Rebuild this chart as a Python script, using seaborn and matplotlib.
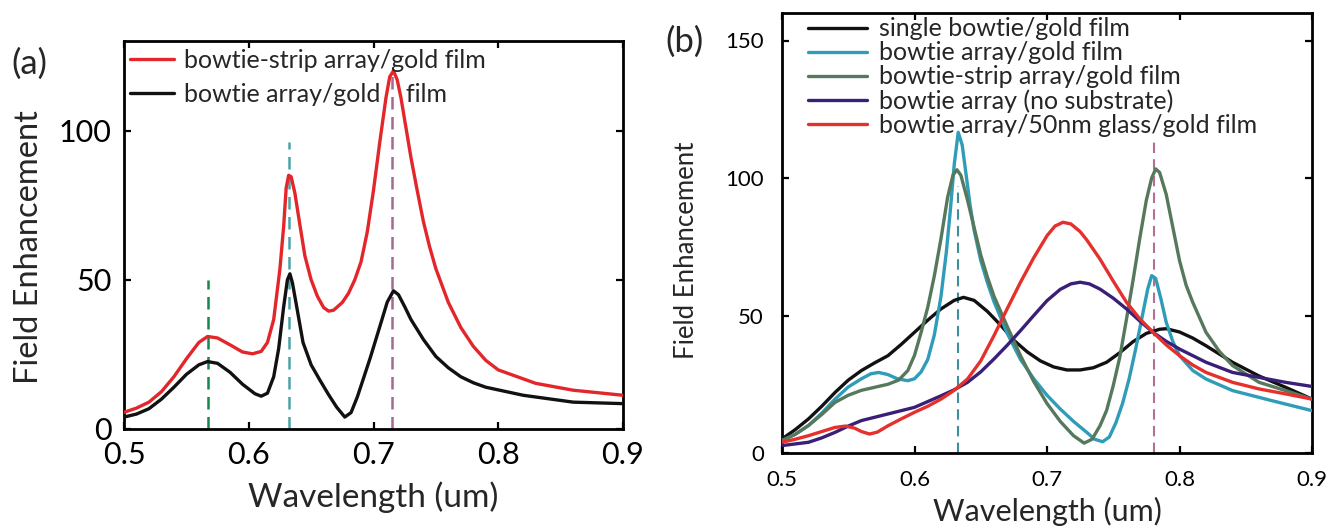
import matplotlib
matplotlib.use("Agg")
import matplotlib.pyplot as plt
import seaborn as sns

# ---------------- data: panel (a) ----------------
wl_a_strip = [0.50,0.51,0.52,0.53,0.54,0.55,0.56,0.567,0.575,0.585,0.595,0.603,0.61,0.615,0.62,0.625,0.628,
              0.63,0.632,0.634,0.637,0.64,0.645,0.65,0.655,0.66,0.664,0.668,0.675,0.68,0.685,0.69,0.695,
              0.70,0.705,0.71,0.713,0.716,0.719,0.722,0.726,0.73,0.735,0.74,0.745,0.75,0.76,0.77,0.78,
              0.79,0.80,0.83,0.86,0.90]
fe_a_strip = [5.6,7,9,12.5,17.5,23.5,29,31,30.5,28.2,25.8,25.2,26,29,36.7,53.7,68,
              80.8,85,84.5,79,71,58,50,44.5,40.7,39.5,39.8,42.4,45.5,50,56,66,
              80,96,111,118,120,117,111,101,91,80,69.5,61,53.7,42.4,34,27.7,
              23,19.8,15.3,13,11.3]

wl_a_array = [0.50,0.51,0.52,0.53,0.54,0.55,0.56,0.567,0.575,0.585,0.595,0.605,0.61,0.615,0.62,0.624,
              0.628,0.631,0.633,0.635,0.638,0.6435,0.65,0.657,0.664,0.6705,0.677,0.682,0.687,0.692,
              0.6975,0.706,0.711,0.716,0.72,0.725,0.73,0.74,0.75,0.76,0.77,0.78,0.79,0.82,0.86,0.90]
fe_a_array = [4,5,6.8,10,14,18.3,21.5,22.6,22,19,15,11.8,11,12,17.5,27,
              41,50,52,49,42,29,21.5,16.4,11.5,7.3,4,5.5,10.7,17,
              24,35.6,42.5,46.3,45,41,36.7,30,24.3,20.5,17.5,15.5,14,11.3,9,8.5]

labels_a = ["bowtie-strip array/gold film", "bowtie array/gold    film"]
colors_a = ["#e3262a", "#111111"]

vl_a_x = [0.567, 0.632, 0.715]
vl_a_top = [50, 96, 120]
vl_a_colors = ["#15874d", "#4aa3a8", "#a4698f"]

# ---------------- data: panel (b) ----------------
wl_b_single = [0.50,0.51,0.52,0.53,0.54,0.55,0.56,0.57,0.58,0.59,0.60,0.61,0.62,0.63,0.637,0.645,0.655,
               0.665,0.675,0.685,0.695,0.705,0.715,0.725,0.735,0.745,0.755,0.765,0.775,0.785,0.79,
               0.80,0.81,0.82,0.84,0.86,0.88,0.90]
fe_b_single = [5.1,8.5,12.4,17,22,26.5,30,32.8,35.4,39.5,43.9,48.3,52.4,55.5,56.6,55.5,51.5,
               46.5,41,36.8,33.5,31.3,30.2,30.2,31,33,36.5,40.5,43.5,45,45.2,
               44,41.8,39,33,28,23.9,19.6]

wl_b_array = [0.50,0.51,0.52,0.53,0.54,0.55,0.56,0.567,0.573,0.58,0.587,0.595,0.60,0.605,0.61,0.615,
              0.62,0.624,0.627,0.63,0.633,0.636,0.639,0.642,0.645,0.65,0.655,0.66,0.67,0.68,0.69,
              0.70,0.71,0.72,0.73,0.736,0.742,0.747,0.752,0.757,0.762,0.767,0.772,0.776,0.779,0.782,
              0.786,0.79,0.795,0.80,0.81,0.82,0.84,0.87,0.90]
fe_b_array = [4.5,6.8,10,14.5,19.6,24,27,28.8,29.3,28.5,27,26.3,27,29.5,34,43,
              57,73,88,105,116.6,112,101,90,81,70,62,55,43.5,34,27,
              21,16,11.5,7.5,5,4.1,5.8,11,18,27,38,50,59.6,64.5,63.5,
              56,47.5,40.5,35.4,30,26.9,22.7,19,15.4]

wl_b_strip = [0.50,0.51,0.52,0.53,0.54,0.55,0.56,0.57,0.58,0.588,0.595,0.60,0.605,0.61,0.615,0.62,
              0.625,0.629,0.632,0.635,0.64,0.645,0.65,0.655,0.66,0.67,0.68,0.69,0.70,0.71,0.72,
              0.728,0.734,0.74,0.745,0.75,0.755,0.76,0.765,0.77,0.775,0.779,0.782,0.785,0.79,0.795,
              0.80,0.805,0.81,0.82,0.83,0.84,0.86,0.88,0.90]
fe_b_strip = [4.5,6.8,10,14,18.4,21,22.8,23.9,25,26.5,30,35.5,43.9,53,64.5,78,
              93,101,103,101,92,82,72,64,57,46,35.4,26,18,11.5,6.3,
              3.6,5,9.9,15.5,24.5,35,48.7,63,78,92,100,103.3,102,94,82,
              70,61,54.8,43.9,37,31.8,25.7,22.7,19.6]

wl_b_nosub = [0.50,0.52,0.53,0.54,0.55,0.56,0.58,0.60,0.62,0.63,0.64,0.65,0.66,0.67,0.68,0.69,0.70,
              0.71,0.718,0.725,0.732,0.74,0.75,0.76,0.77,0.78,0.79,0.80,0.82,0.84,0.86,0.88,0.90]
fe_b_nosub = [2.7,3.9,5.5,7.5,9.8,11.8,14.2,16.6,20.8,23,25.7,29.5,34.2,39.2,44.5,50,55.4,
              59.5,61.5,62.1,61.5,59.6,56.3,52.4,48,43.9,40.6,37.8,33,29.3,27.5,25.7,24.2]

wl_b_glass = [0.50,0.51,0.52,0.53,0.54,0.548,0.555,0.56,0.566,0.572,0.58,0.59,0.60,0.61,0.62,0.63,
              0.64,0.65,0.66,0.67,0.68,0.69,0.70,0.706,0.712,0.718,0.725,0.73,0.74,0.75,0.76,0.77,
              0.78,0.79,0.80,0.81,0.82,0.84,0.86,0.88,0.90]
fe_b_glass = [3.9,5,6.3,7.8,9.3,9.8,9,7.8,6.9,7.6,9.9,12.4,14.8,17,19.6,22.8,
              26.9,33.5,42.7,52.5,62.1,71,79,82.5,83.9,83.3,80.5,77.5,70.5,62.5,54.8,48.8,
              43.9,39.3,35.4,32,29.3,25.7,23.3,21.5,19.6]

labels_b = ["single bowtie/gold film", "bowtie array/gold film", "bowtie-strip array/gold film",
            "bowtie array (no substrate)", "bowtie array/50nm glass/gold film"]
colors_b = ["#111111", "#2f9cb8", "#56785c", "#3a1f78", "#e5302b"]

vl_b_x = [0.633, 0.781]
vl_b_top = [97, 113]
vl_b_colors = ["#3d8f9c", "#b56f94"]

xticks = [0.5, 0.6, 0.7, 0.8, 0.9]
xticklabels = ["0.5", "0.6", "0.7", "0.8", "0.9"]
yticks_a = [0, 50, 100]
yticks_b = [0, 50, 100, 150]

# ---------------- style ----------------
sns.set_style("white")
plt.rcParams["font.family"] = ["Lato", "DejaVu Sans"]

fig = plt.figure(figsize=(13.31, 5.28), dpi=100)
ax_a = fig.add_axes([124/1331, 1 - 429/528, 499/1331, 388/528])
ax_b = fig.add_axes([782/1331, 1 - 453/528, 530/1331, 440/528])

def style_axes(ax, tick_fs, ypad, xpad):
    for s in ax.spines.values():
        s.set_visible(True)
        s.set_color("black")
        s.set_linewidth(2.0)
    ax.tick_params(direction="in", length=5, width=1.6, top=True, right=True,
                   bottom=True, left=True, labelsize=tick_fs, colors="black")
    ax.tick_params(axis="y", pad=ypad)
    ax.tick_params(axis="x", pad=xpad)
    ax.set_xticks(xticks)
    ax.set_xticklabels(xticklabels)
    ax.set_xlim(0.5, 0.9)
    ax.grid(False)

# ---------------- panel (a) ----------------
ax_a.vlines(vl_a_x, [0]*3, vl_a_top, colors=vl_a_colors, linestyles=(0, (5, 3)), linewidth=1.8, zorder=1)
series_a = [(wl_a_strip, fe_a_strip), (wl_a_array, fe_a_array)]
for (x, y), lab, c in zip(series_a, labels_a, colors_a):
    sns.lineplot(x=x, y=y, ax=ax_a, color=c, linewidth=2.4, label=lab, errorbar=None, zorder=3)
style_axes(ax_a, 22, 9, 9)
ax_a.set_ylim(0, 130)
ax_a.set_yticks(yticks_a)
ax_a.set_xlabel("Wavelength (um)", fontsize=24)
ax_a.xaxis.set_label_coords(0.5, -0.135)
ax_a.set_ylabel("Field Enhancement", fontsize=23.5)
ax_a.yaxis.set_label_coords(-0.16, 0.47)
ax_a.legend(loc="upper left", bbox_to_anchor=(0.012, 0.98), frameon=False, fontsize=18,
            handlelength=1.75, handletextpad=0.42, borderpad=0.0, borderaxespad=0.0,
            labelspacing=0.45)

# ---------------- panel (b) ----------------
ax_b.vlines(vl_b_x, [0]*2, vl_b_top, colors=vl_b_colors, linestyles=(0, (5, 3)), linewidth=1.5, zorder=1)
series_b = [(wl_b_single, fe_b_single), (wl_b_array, fe_b_array), (wl_b_strip, fe_b_strip),
            (wl_b_nosub, fe_b_nosub), (wl_b_glass, fe_b_glass)]
for (x, y), lab, c in zip(series_b, labels_b, colors_b):
    sns.lineplot(x=x, y=y, ax=ax_b, color=c, linewidth=2.4, label=lab, errorbar=None, zorder=3)
style_axes(ax_b, 16, 13, 12)
ax_b.set_ylim(0, 160)
ax_b.set_yticks(yticks_b)
ax_b.set_xlabel("Wavelength (um)", fontsize=22)
ax_b.xaxis.set_label_coords(0.5, -0.1)
ax_b.set_ylabel("Field Enhancement", fontsize=18.5)
ax_b.yaxis.set_label_coords(-0.157, 0.46)
ax_b.legend(loc="upper left", bbox_to_anchor=(0.049, 0.99), frameon=False, fontsize=18,
            handlelength=2.35, handletextpad=0.5, borderpad=0.0, borderaxespad=0.0,
            labelspacing=0.04)

fig.text(29/1331, 1 - 64/528, "(a)", fontsize=25, ha="center", va="center")
fig.text(684/1331, 1 - 42/528, "(b)", fontsize=25, ha="center", va="center")

fig.savefig("out.png", dpi=100)
